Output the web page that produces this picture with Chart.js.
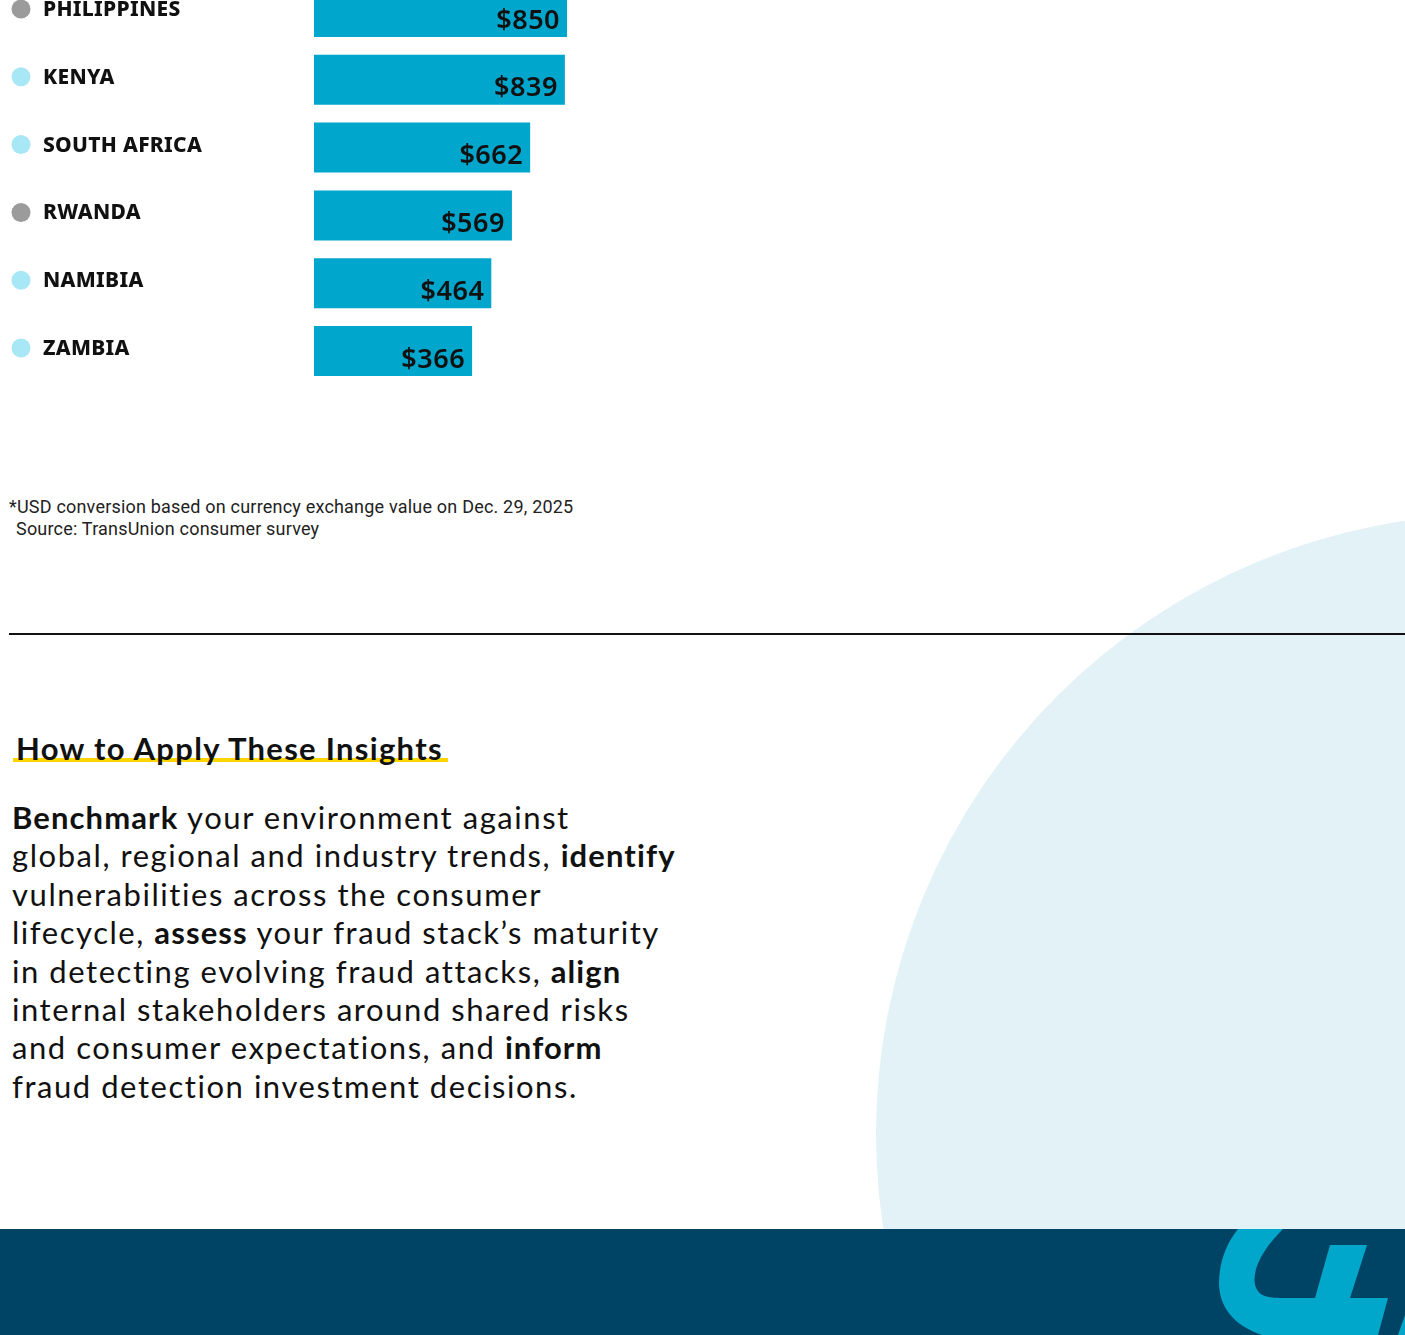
<!DOCTYPE html>
<html>
<head>
<meta charset="utf-8">
<script src="https://cdn.jsdelivr.net/npm/chart.js@4/dist/chart.umd.min.js"></script>
<style>
html,body{margin:0;padding:0;background:#fff;}
body{width:1405px;height:1335px;position:relative;overflow:hidden;font-family:"Lato",sans-serif;}
#bg{position:absolute;left:0;top:0;}
#chartBox{position:absolute;left:0;top:-22px;width:700px;height:407px;}
#note{position:absolute;left:9px;top:496px;font-family:Roboto,sans-serif;font-size:18px;letter-spacing:0.2px;color:#222;line-height:22px;}
#note span{padding-left:7px;}
#rule{position:absolute;left:9px;top:633px;width:1396px;height:2px;background:#111;}
#head{position:absolute;left:16px;top:729px;font-family:"Lato",sans-serif;font-weight:700;font-size:31px;letter-spacing:1.3px;color:#111;}
#uline{position:absolute;left:13px;top:758px;width:435px;height:4px;background:#ffd500;}
#body{position:absolute;left:12px;top:798px;font-family:"Lato",sans-serif;font-size:31px;line-height:38.4px;letter-spacing:1.55px;color:#111;}
#body b{font-weight:700;letter-spacing:1.1px;}
</style>
</head>
<body>
<svg id="bg" width="1405" height="1335">
  <circle cx="1496" cy="1134" r="620" fill="#e3f2f7"/>
  <rect x="0" y="1229" width="1405" height="106" fill="#004465"/>
  <path d="M1238,1229 L1283,1229 C1262,1250 1252,1270 1255,1285 C1258,1295 1265,1298 1280,1298 L1315,1298 L1330,1245 L1367,1245 L1350,1298 L1388,1298 L1378,1335 L1262,1335 C1232,1325 1219,1305 1219,1283 C1219,1265 1225,1245 1238,1229 Z M1398,1335 L1405,1315 L1405,1335 Z" fill="#00a7cb"/>
</svg>
<div id="chartBox"><canvas id="c"></canvas></div>
<div id="note">*USD conversion based on currency exchange value on Dec. 29, 2025<br><span>Source: TransUnion consumer survey</span></div>
<div id="rule"></div>
<div id="uline"></div>
<div id="head">How to Apply These Insights</div>
<div id="body"><b>Benchmark</b> your environment against<br>global, regional and industry trends, <b>identify</b><br>vulnerabilities across the consumer<br>lifecycle, <b>assess</b> your fraud stack’s maturity<br>in detecting evolving fraud attacks, <b>align</b><br>internal stakeholders around shared risks<br>and consumer expectations, and <b>inform</b><br>fraud detection investment decisions.</div>
<script>
/* ===== 資料 ===== */
const countries=['PHILIPPINES','KENYA','SOUTH AFRICA','RWANDA','NAMIBIA','ZAMBIA'];
const amounts=[850,839,662,569,464,366];
const dotColors=['#9b9b9b','#a8e7f5','#a8e7f5','#9b9b9b','#a8e7f5','#a8e7f5'];

const X_MIN=-440,X_MAX=860;

/* 左側國名 + 圓點，右側數值 */
const labelPlugin={id:'labels',afterDatasetsDraw(ch){
  const ctx=ch.ctx,ys=ch.scales.y,meta=ch.getDatasetMeta(0);
  ctx.save();
  countries.forEach((n,i)=>{
    const y=ys.getPixelForValue(i);
    ctx.fillStyle=dotColors[i];ctx.beginPath();ctx.arc(21,y-3,9.5,0,Math.PI*2);ctx.fill();
    ctx.fillStyle='#111';ctx.font='800 21px "Noto Sans"';ctx.textBaseline='middle';ctx.textAlign='left';
    ctx.letterSpacing='0.3px';
    ctx.fillText(n,43,y-2);
    const bar=meta.data[i];
    ctx.letterSpacing='0.5px';
    ctx.font='600 27px "Noto Sans"';ctx.textAlign='right';
    ctx.fillText('$'+amounts[i],bar.x-7,y+9);
  });
  ctx.restore();
}};

new Chart(document.getElementById('c'),{
  type:'bar',
  data:{labels:countries,datasets:[{data:amounts,backgroundColor:'#00a6cb',borderWidth:0,
    base:X_MIN,categoryPercentage:1,barPercentage:0.737}]},
  options:{indexAxis:'y',responsive:true,maintainAspectRatio:false,animation:false,
    layout:{padding:{left:314,right:131,top:0,bottom:0}},
    plugins:{legend:{display:false},tooltip:{enabled:false}},
    scales:{x:{display:false,min:X_MIN,max:X_MAX},y:{display:false}}},
  plugins:[labelPlugin]
});
</script>
</body>
</html>
